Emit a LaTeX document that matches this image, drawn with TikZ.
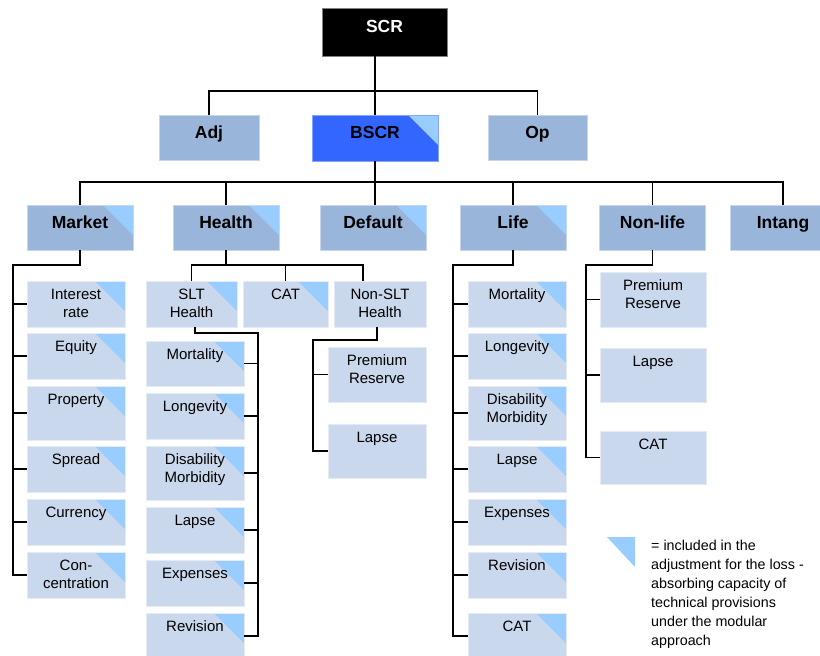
\documentclass[tikz,border=0pt]{standalone}
\usepackage{fontspec}
\setmainfont{Liberation Sans}
\definecolor{topblue}{RGB}{153,181,217}
\definecolor{subblue}{RGB}{201,216,236}
\definecolor{bscrblue}{RGB}{51,102,255}
\definecolor{tipblue}{RGB}{153,204,255}
\tikzset{
  mainbox/.style={rectangle, fill=topblue, draw=topblue!55!white, line width=0.8pt,
    minimum width=106pt, minimum height=45pt, inner sep=0pt,
    font=\fontsize{17.5}{21}\selectfont\bfseries, text height=12.5pt, text depth=11.5pt},
  subbox/.style={rectangle, fill=subblue, draw=subblue!50!white, line width=0.8pt,
    minimum width=98pt, minimum height=46pt, inner sep=0pt},
  txt/.style={anchor=north, yshift=-8.3pt, inner sep=0pt, align=center,
    font=\fontsize{15}{18}\selectfont},
  flagged/.style={path picture={\fill [tipblue] (path picture bounding box.north east)
    -- ++(-30pt,0pt) -- ++(30pt,-30pt) -- cycle;}},
  wire/.style={line width=1.6pt}
}
\begin{document}
\begin{tikzpicture}[x=1pt, y=-1pt]
\useasboundingbox (0,0) rectangle (820,656);
\clip (0,0) rectangle (820,656);
\node [mainbox, fill=black, draw=gray, text=white, minimum width=125pt, minimum height=48pt] (scr) at (384.5,32) {SCR};
\node [mainbox, minimum width=100pt] (adj) at (209,137.5) {Adj};
\node [mainbox, flagged, fill=bscrblue, draw=bscrblue!60!white, minimum width=126pt, minimum height=46pt] (bscr) at (375,138) {BSCR};
\node [mainbox, minimum width=99pt] (op) at (537.5,137.5) {Op};
\node [mainbox, flagged] (market) at (80,227.5) {Market};
\node [mainbox, flagged] (health) at (226,227.5) {Health};
\node [mainbox, flagged] (default) at (373,227.5) {Default};
\node [mainbox, flagged] (life) at (513,227.5) {Life};
\node [mainbox] (nonlife) at (652.5,227.5) {Non-life};
\node [mainbox] (intang) at (783,227.5) {Intang};
\coordinate (top bus) at (375,91);
\coordinate (mid bus) at (375,182);
\draw [wire] (scr.south -| bscr.north) -- (bscr.north);
\draw [wire] (adj.north) |- (top bus) -| (op.north);
\draw [wire] (bscr.south) -- (default.north -| bscr.south);
\draw [wire] (market.north) |- (mid bus) -| (intang.north);
\foreach \n in {health,life,nonlife}
  \draw [wire] (\n.north) -- (\n.north |- mid bus);
\node [subbox, flagged, label={[txt]north:Interest\\rate}] (m1) at (76,304) {};
\node [subbox, flagged, label={[txt]north:Equity}] (m2) at (76,356) {};
\node [subbox, flagged, minimum height=54pt, label={[txt]north:Property}] (m3) at (76,413) {};
\node [subbox, flagged, label={[txt]north:Spread}] (m4) at (76,469) {};
\node [subbox, flagged, label={[txt]north:Currency}] (m5) at (76,522) {};
\node [subbox, flagged, label={[txt]north:Con-\\centration}] (m6) at (76,575) {};
\coordinate (market bus) at (13,265);
\draw [wire] (market.south) |- (market bus) -- (market bus |- m6.west) -- (m6.west);
\foreach \i in {1,...,5}
  \draw [wire] (market bus |- m\i.west) -- (m\i.west);
\node [subbox, flagged, minimum width=91pt, label={[txt]north:SLT\\Health}] (slt) at (191.5,304) {};
\node [subbox, flagged, minimum width=85pt, label={[txt]north:CAT}] (hcat) at (285.5,304) {};
\node [subbox, minimum width=92pt, label={[txt]north:Non-SLT\\Health}] (nslt) at (380,304) {};
\coordinate (health bus) at (363,265);
\draw [wire] (health.south) -- (health.south |- health bus);
\draw [wire] (slt.north) |- (health bus) -- (health bus |- nslt.north);
\draw [wire] (hcat.north) -- (hcat.north |- health bus);
\node [subbox, flagged, minimum height=45pt, label={[txt]north:Mortality}] (s1) at (195,363.5) {};
\node [subbox, flagged, label={[txt]north:Longevity}] (s2) at (195,416) {};
\node [subbox, flagged, minimum height=54pt, label={[txt]north:Disability\\Morbidity}] (s3) at (195,473) {};
\node [subbox, flagged, label={[txt]north:Lapse}] (s4) at (195,530) {};
\node [subbox, flagged, label={[txt]north:Expenses}] (s5) at (195,583) {};
\node [subbox, flagged, label={[txt]north:Revision}] (s6) at (195,636) {};
\coordinate (slt bus) at (258,333);
\draw [wire] (s1.north |- slt.south) |- (slt bus) -- (slt bus |- s6.east) -- (s6.east);
\foreach \i in {1,...,5}
  \draw [wire] (slt bus |- s\i.east) -- (s\i.east);
\node [subbox, minimum height=55pt, label={[txt]north:Premium\\Reserve}] (n1) at (377,374.5) {};
\node [subbox, minimum height=54pt, label={[txt]north:Lapse}] (n2) at (377,451) {};
\coordinate (nslt bus) at (313,340);
\draw [wire] (n1.north |- nslt.south) |- (nslt bus) -- (nslt bus |- n2.west) -- (n2.west);
\draw [wire] (nslt bus |- n1.west) -- (n1.west);
\node [subbox, flagged, label={[txt]north:Mortality}] (l1) at (517,304) {};
\node [subbox, flagged, label={[txt]north:Longevity}] (l2) at (517,356) {};
\node [subbox, flagged, minimum height=54pt, label={[txt]north:Disability\\Morbidity}] (l3) at (517,413) {};
\node [subbox, flagged, label={[txt]north:Lapse}] (l4) at (517,469) {};
\node [subbox, flagged, label={[txt]north:Expenses}] (l5) at (517,522) {};
\node [subbox, flagged, label={[txt]north:Revision}] (l6) at (517,575) {};
\node [subbox, flagged, label={[txt]north:CAT}] (l7) at (517,636) {};
\coordinate (life bus) at (453,265);
\draw [wire] (life.south) |- (life bus) -- (life bus |- l7.west) -- (l7.west);
\foreach \i in {1,...,6}
  \draw [wire] (life bus |- l\i.west) -- (l\i.west);
\node [subbox, minimum width=106pt, minimum height=55pt, label={[txt]north:Premium\\Reserve}] (f1) at (653,299.5) {};
\node [subbox, minimum width=106pt, minimum height=54pt, label={[txt]north:Lapse}] (f2) at (653,375) {};
\node [subbox, minimum width=106pt, minimum height=53pt, label={[txt]north:CAT}] (f3) at (653,457.5) {};
\coordinate (nonlife bus) at (586,265);
\draw [wire] (nonlife.south) |- (nonlife bus) -- (nonlife bus |- f3.west) -- (f3.west);
\foreach \i in {1,2}
  \draw [wire] (nonlife bus |- f\i.west) -- (f\i.west);
\fill [tipblue] (607,537) -- (635,537) -- (635,567) -- cycle;
\node [anchor=north west, inner sep=0pt, align=left, font=\fontsize{14.3}{19}\selectfont] (note) at (651,540)
  {= included in the\\adjustment for the loss -\\absorbing capacity of\\technical provisions\\under the modular\\approach};
\end{tikzpicture}
\end{document}
